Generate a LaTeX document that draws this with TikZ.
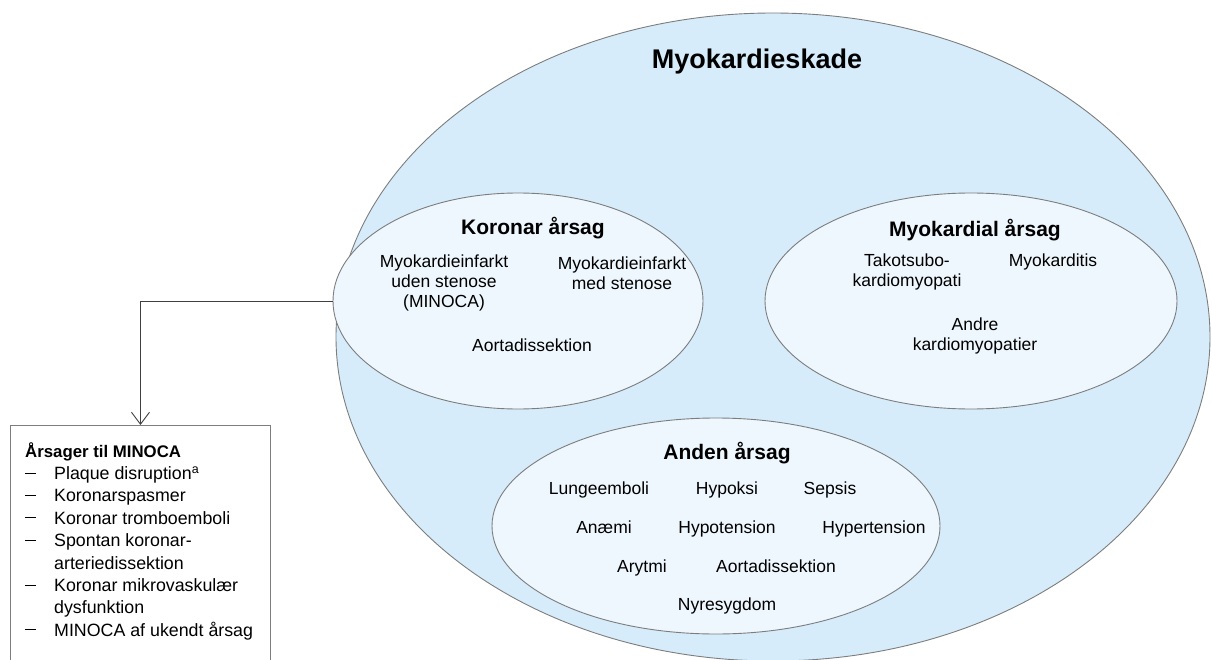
\documentclass[tikz,border=0pt]{standalone}
\usepackage{fontspec}
\setmainfont{Liberation Sans}
\usetikzlibrary{shapes.geometric,arrows.meta,positioning}
\definecolor{outerblue}{RGB}{214,236,250}
\definecolor{innerblue}{RGB}{238,247,253}
\definecolor{rimgrey}{RGB}{125,125,125}
\newcommand{\listdash}{\rule[0.33em]{11pt}{0.9pt}}

\begin{document}
\begin{tikzpicture}[x=1pt, y=1pt,
    zone/.style={ellipse, draw=rimgrey, line width=0.9pt, inner sep=0pt},
    cause/.style={align=center, font=\fontsize{17.5}{20}\selectfont, inner sep=0pt},
    head/.style={font=\bfseries\fontsize{21}{24}\selectfont, inner sep=0pt}]
  \useasboundingbox (0,0) rectangle (1212,-660);
  \clip (0,0) rectangle (1212,-660);

  % Outer zone
  \node[zone, fill=outerblue, minimum width=874, minimum height=648] (skade) at (773,-337) {};
  \node[font=\bfseries\fontsize{27}{30}\selectfont, inner sep=0pt] (skadetitle) at (757,-62) {Myokardieskade};

  % Inner zones
  \node[zone, fill=innerblue, minimum width=370, minimum height=216] (koronar) at (518,-301) {};
  \node[zone, fill=innerblue, minimum width=412, minimum height=216] (myokardial) at (971,-301) {};
  \node[zone, fill=innerblue, minimum width=448, minimum height=216] (anden) at (716,-526) {};

  % Koronar aarsag
  \node[head] (koronartitle) at (533,-228) {Koronar årsag};
  \node[cause] (minocaitem) at (444,-283) {Myokardieinfarkt\\uden stenose\\(MINOCA)};
  \node[cause] (stenose) at (622,-273) {Myokardieinfarkt\\med stenose};
  \node[cause] (aorta1) at (532,-345) {Aortadissektion};

  % Myokardial aarsag
  \node[head] (myokardialtitle) at (975,-230) {Myokardial årsag};
  \node[cause] (takotsubo) at (907,-272) {Takotsubo-\\kardiomyopati};
  \node[cause] (myokarditis) at (1053,-262) {Myokarditis};
  \node[cause] (andre) at (975,-336) {Andre\\kardiomyopatier};

  % Anden aarsag (items on common baselines)
  \node[head] (andentitle) at (727,-453) {Anden årsag};
  \foreach \name/\x/\y/\txt in {lunge/599/494/Lungeemboli, hypoksi/727/494/Hypoksi,
      sepsis/830/494/Sepsis, anaemi/604/533/Anæmi, hypo/727/533/Hypotension,
      hyper/874/533/Hypertension, arytmi/642/572/Arytmi, aorta2/776/572/Aortadissektion,
      nyre/727/610/Nyresygdom}
    \node[cause, anchor=base] (\name) at (\x,-\y) {\txt};

  % MINOCA box
  \node[draw=rimgrey, line width=0.9pt, anchor=north west, minimum width=260, minimum height=260,
    inner sep=0pt] (minoca) at (10,-425) {};
  \node[anchor=base west, inner sep=0pt, font=\fontsize{17.8}{22.4}\selectfont] (minocalist) at (25,-457)
    {\begin{tabular}[t]{@{}p{29pt}@{}l@{}}
      \multicolumn{2}{@{}l@{}}{\bfseries\fontsize{16.8}{22.4}\selectfont Årsager til MINOCA}\\
      \listdash & Plaque disruption\textsuperscript{a}\\
      \listdash & Koronarspasmer\\
      \listdash & Koronar tromboemboli\\
      \listdash & Spontan koronar-\\
        & arteriedissektion\\
      \listdash & Koronar mikrovaskulær\\
        & dysfunktion\\
      \listdash & MINOCA af ukendt årsag
    \end{tabular}};

  \draw[-{Straight Barb[length=12pt, width=18pt]}, draw=black!75, line width=0.9pt]
    (koronar.west) -| (minoca.north);
\end{tikzpicture}
\end{document}
